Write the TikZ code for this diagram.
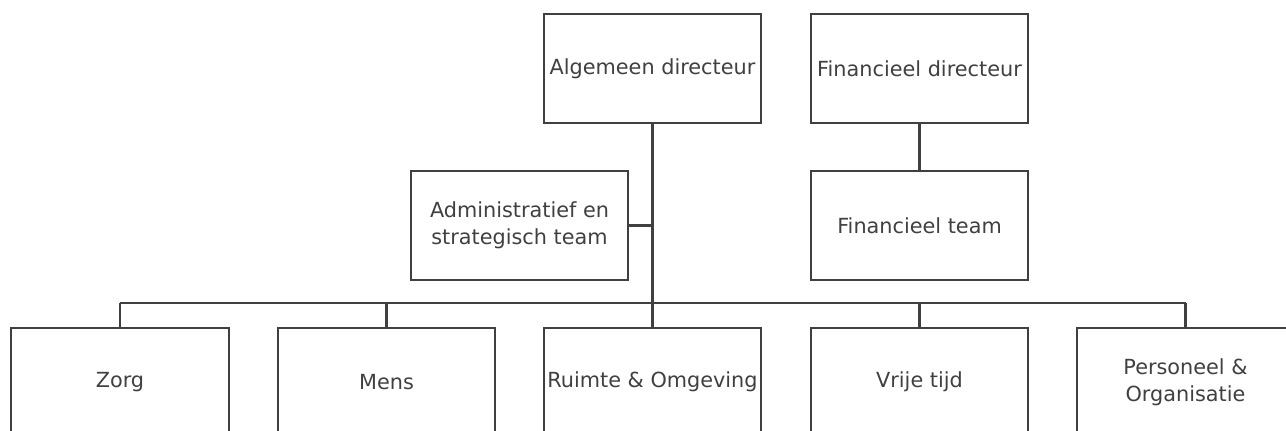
\documentclass[tikz,border=0pt]{standalone}
\usepackage{fontspec}
\setmainfont{DejaVu Sans}
\definecolor{ink}{HTML}{404040}
\begin{document}
\begin{tikzpicture}[x=0.75pt,y=-0.75pt,
  box/.style={draw=ink,line width=1.7pt,minimum width=163pt,minimum height=81.5pt,inner sep=0pt,
    text=ink,align=center,font=\fontsize{15.6}{20.3}\selectfont},
  conn/.style={draw=ink,line width=1.7pt},
  trunk/.style={draw=ink,line width=2.2pt}]
\useasboundingbox (0,0) rectangle (1286,430);
\clip (0,0) rectangle (1286,430);
\node[box] (ad) at (652.5,68.5) {Algemeen directeur};
\node[box] (fd) at (919.5,68.5) {Financieel directeur};
\node[box] (admin) at (519.5,225.5) {Administratief en\\strategisch team};
\node[box] (ft) at (919.5,225.5) {Financieel team};
\node[box] (zorg) at (120,382) {Zorg};
\node[box] (mens) at (386.5,382) {Mens};
\node[box] (ruimte) at (652.5,382) {Ruimte \& Omgeving};
\node[box] (vrije) at (919.5,382) {Vrije tijd};
\node[box] (pers) at (1185.5,382) {Personeel \&\\Organisatie};
\coordinate (bus) at (652.5,303);
\draw[trunk] (ad.south) -- (bus);
\draw[conn] (admin.east) -- (admin.east -| ad.south);
\draw[trunk] (zorg.north |- bus) -- (pers.north |- bus);
\foreach \n in {zorg,mens,ruimte,vrije,pers}
  \draw[conn] (\n.north |- bus) -- (\n.north);
\draw[conn] (fd.south) -- (ft.north);
\end{tikzpicture}
\end{document}
